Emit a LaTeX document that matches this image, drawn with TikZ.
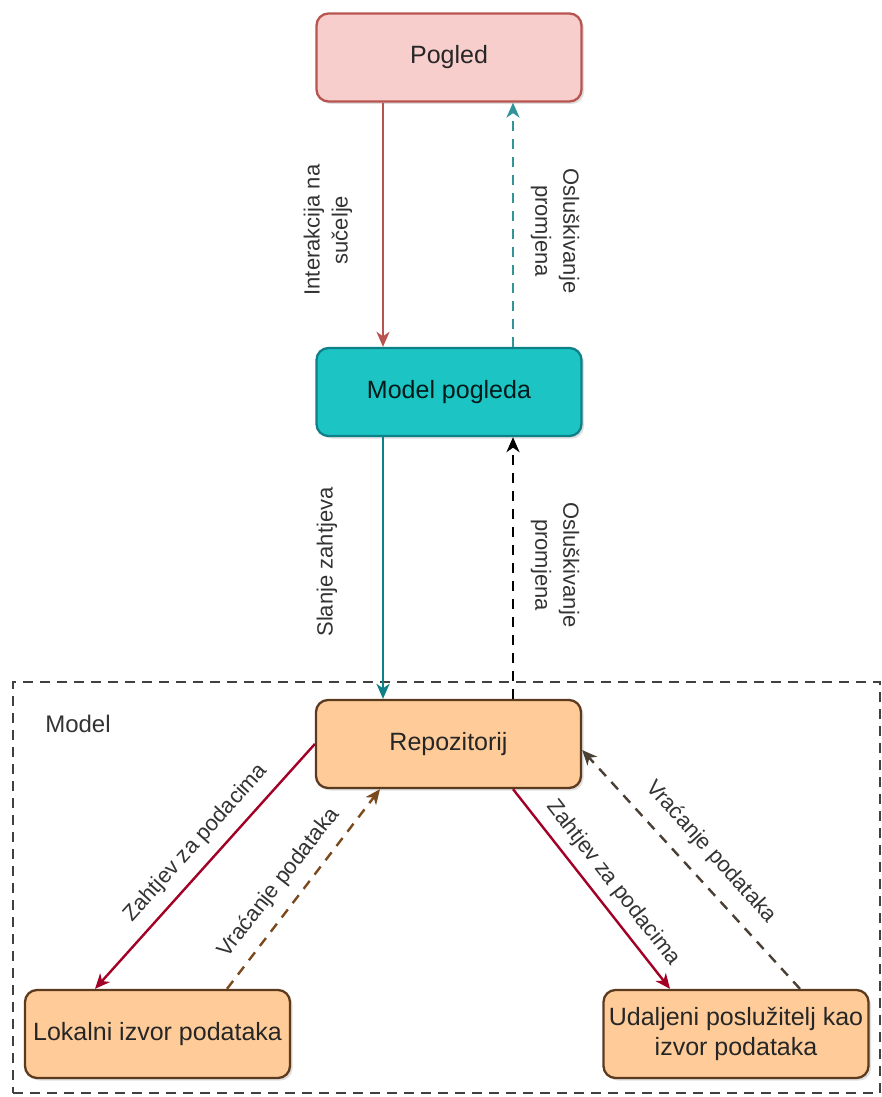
\documentclass[tikz,border=0pt]{standalone}
\usepackage{fontspec}
\setmainfont{Liberation Sans}
\usetikzlibrary{arrows.meta,shadows,calc}
\definecolor{pinkfill}{HTML}{F8CECC}
\definecolor{pinkline}{HTML}{B85450}
\definecolor{tealfill}{HTML}{1CC4C4}
\definecolor{tealline}{HTML}{0E8088}
\definecolor{orangefill}{HTML}{FFCC99}
\definecolor{brownline}{HTML}{5C3A1E}
\definecolor{darkred}{HTML}{A20025}
\definecolor{brownarrow}{HTML}{7A4A1E}
\definecolor{graybrown}{HTML}{4A3F35}
\definecolor{labelgray}{HTML}{333333}
\tikzset{
  box/.style={draw, rounded corners=12pt, line width=2.3pt, minimum width=265pt, minimum height=88pt,
    align=center, inner sep=2pt, font=\fontsize{25}{30}\selectfont, text=black!85,
    drop shadow={opacity=0.25, shadow xshift=2.5pt, shadow yshift=-2.5pt}},
  lbl/.style={align=center, font=\fontsize{22}{28}\selectfont, text=labelgray, inner sep=1pt},
  conn/.style={line width=2.4pt, -{Stealth[length=15pt,width=13pt,inset=4.5pt]}},
  dconn/.style={conn, dash pattern=on 10pt off 8pt},
}
\begin{document}
\begin{tikzpicture}[x=1pt,y=1pt]
\useasboundingbox (0,0) rectangle (882,-1097);
% container
\node[draw=black!75, line width=2.5pt, dash pattern=on 10pt off 7pt, minimum width=867pt, minimum height=411pt, inner sep=0pt] (modelbox) at (446.5,-887.5) {};
\node[font=\fontsize{24}{28}\selectfont, text=labelgray] (modeltxt) at (78,-724) {Model};
% nodes
\node[box, fill=pinkfill, draw=pinkline] (pogled) at (449,-57.5) {Pogled};
\node[box, fill=tealfill, draw=tealline, text=black!80!teal] (mp) at (449,-392) {Model pogleda};
\node[box, fill=orangefill, draw=brownline] (repo) at (448.5,-744) {Repozitorij};
\node[box, fill=orangefill, draw=brownline] (lok) at (157.5,-1034) {Lokalni izvor podataka};
\node[box, fill=orangefill, draw=brownline] (uda) at (736,-1034) {Udaljeni poslužitelj kao\\izvor podataka};
% connectors
\draw[conn, draw=pinkline] ([xshift=-66pt]pogled.south) -- ([xshift=-66pt]mp.north);
\draw[dconn, draw=tealline!85] ([xshift=64pt]mp.north) -- ([xshift=64pt]pogled.south);
\draw[conn, draw=tealline] ([xshift=-66pt]mp.south) -- ([xshift=-65.5pt]repo.north);
\draw[dconn, draw=black] ([xshift=64.5pt]repo.north) -- ([xshift=64pt]mp.south);
\draw[conn, draw=darkred] (repo.west) -- ([xshift=-62.5pt]lok.north);
\draw[dconn, draw=brownarrow] ([xshift=69.5pt]lok.north) -- ([xshift=-68.5pt]repo.south);
\draw[conn, draw=darkred] ([xshift=64.5pt]repo.south) -- ([xshift=-66pt]uda.north);
\draw[dconn, draw=graybrown] ([xshift=64pt]uda.north) -- ([yshift=-6pt]repo.east);
% labels
\node[lbl, rotate=90] (l1) at (328,-230) {Interakcija na\\sučelje};
\node[lbl, rotate=-90] (l2) at (555,-231) {Osluškivanje\\promjena};
\node[lbl, rotate=90] (l3) at (327,-562) {Slanje zahtjeva};
\node[lbl, rotate=-90] (l4) at (555,-565) {Osluškivanje\\promjena};
\node[lbl, rotate=48] (l5) at (196,-843) {Zahtjev za podacima};
\node[lbl, rotate=52] (l6) at (279,-883) {Vraćanje podataka};
\node[lbl, rotate=-52] (l7) at (613,-883) {Zahtjev za podacima};
\node[lbl, rotate=-48] (l8) at (711,-852) {Vraćanje podataka};
\end{tikzpicture}
\end{document}
